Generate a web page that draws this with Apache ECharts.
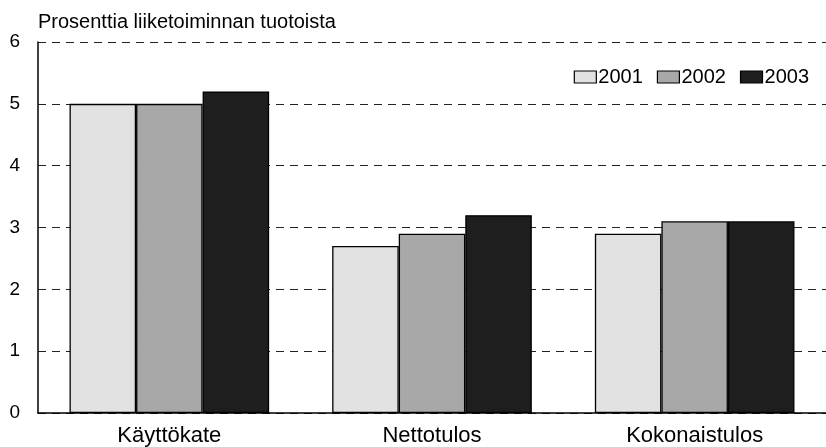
<!DOCTYPE html>
<html>
<head>
<meta charset="utf-8">
<script src="https://cdn.jsdelivr.net/npm/echarts@6/dist/echarts.min.js"></script>
<style>
  html, body { margin: 0; padding: 0; background: #fff; }
  #chart { width: 826px; height: 447px; }
</style>
</head>
<body>
<div id="chart"></div>
<script>
  const categories = ['Käyttökate', 'Nettotulos', 'Kokonaistulos']
  const years = ['2001', '2002', '2003']
  const values2001 = [5.0, 2.7, 2.9]
  const values2002 = [5.0, 2.9, 3.1]
  const values2003 = [5.2, 3.2, 3.1]
  const yTicks = [0, 1, 2, 3, 4, 5, 6]

  const fills = ['#e2e2e2', '#a8a8a8', '#1e1e1e']
  const font = 'Liberation Sans, Arial, sans-serif'

  const myChart = echarts.init(document.getElementById('chart'))

  const seriesData = [values2001, values2002, values2003]

  myChart.setOption({
    animation: false,
    backgroundColor: '#fff',
    title: {
      text: 'Prosenttia liiketoiminnan tuotoista',
      left: 33,
      top: 7,
      textStyle: { fontFamily: font, fontSize: 20, fontWeight: 'normal', color: '#000' }
    },
    legend: {
      right: 12,
      top: 62,
      itemWidth: 22,
      itemHeight: 12,
      itemGap: 14,
      icon: 'rect',
      itemStyle: { borderColor: '#000', borderWidth: 1.2 },
      textStyle: { fontFamily: font, fontSize: 20, color: '#000', padding: [0, 0, 0, -3] },
      data: years
    },
    grid: { left: 38, right: -7, top: 42, bottom: 34 },
    xAxis: {
      type: 'category',
      data: categories,
      axisTick: { show: false },
      axisLine: { lineStyle: { color: '#000', width: 1.5 } },
      axisLabel: { fontFamily: font, fontSize: 22, color: '#000', margin: 12 }
    },
    yAxis: {
      type: 'value',
      min: yTicks[0],
      max: yTicks[yTicks.length - 1],
      interval: 1,
      axisLine: { show: true, lineStyle: { color: '#000', width: 1.5 } },
      axisTick: { show: false },
      axisLabel: { fontFamily: font, fontSize: 19, color: '#000', margin: 18 },
      splitLine: { lineStyle: { type: [8, 6], color: '#222', width: 1.2 } }
    },
    series: years.map((y, i) => ({
      name: y,
      type: 'bar',
      data: seriesData[i],
      barGap: '0%',
      barCategoryGap: '24%',
      itemStyle: { color: fills[i], borderColor: '#000', borderWidth: 1.3 }
    }))
  })
</script>
</body>
</html>
